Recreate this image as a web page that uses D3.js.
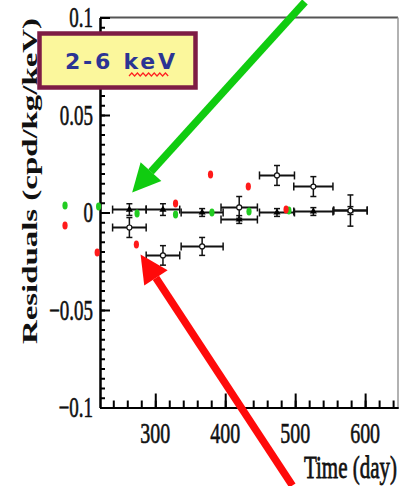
<!DOCTYPE html>
<html>
<head>
<meta charset="utf-8">
<script src="https://cdn.jsdelivr.net/npm/d3@7"></script>
<style>
  body { margin: 0; background: #fff; }
  svg { display: block; }
</style>
</head>
<body>
<div id="chart"></div>
<script>
// residuals per time bin (day centre, half width of bin)
const binDays = [263, 311, 367, 420, 474, 526, 579];
const binHalf = [24, 24, 30, 26, 25, 28, 24];
const residOpen = [-0.0077, -0.022, -0.0174, 0.0026, 0.019, 0.0133, 0.001];
const errOpen = [0.0051, 0.005, 0.0046, 0.0056, 0.0051, 0.0051, 0.008];
const residFilled = [0.0015, 0.0015, 0, -0.0036, 0, 0.0005, 0.001];
const errFilled = [0.003, 0.003, 0.002, 0.002, 0.002, 0.002, 0.002];

// coloured points
const redDays = [171, 217, 273, 329, 379, 433, 487];
const redVals = [-0.0067, -0.0205, -0.0164, 0.0046, 0.0195, 0.0133, 0.0015];
const greenDays = [171, 219, 274, 329, 381, 434, 491];
const greenVals = [0.0036, 0.0031, -0.0005, -0.001, 0, 0.0005, 0.001];

const xTickLabels = [300, 400, 500, 600];
const yTickLabels = [-0.1, -0.05, 0, 0.05, 0.1];

// annotation arrows, in data coords (tail -> tip)
const arrows = [
  {color: '#10cc10', from: [514, 0.108], to: [267, 0.0103]},
  {color: '#ff0a0a', from: [496, -0.14], to: [279, -0.0215]}
];

const width = 399, height = 486;
const svg = d3.select('#chart').append('svg')
  .attr('width', width).attr('height', height);

const x = d3.scaleLinear().domain([221, 647]).range([100, 398]);
const y = d3.scaleLinear().domain([-0.1, 0.1]).range([407.5, 17.5]);

const serif = '"Liberation Serif", "Times New Roman", serif';

// frame (top / right)
svg.append('line').attr('x1', 100).attr('x2', 398).attr('y1', 17.5).attr('y2', 17.5)
  .attr('stroke', '#555').attr('stroke-width', 2);
svg.append('line').attr('x1', 398).attr('x2', 398).attr('y1', 17.5).attr('y2', 407.5)
  .attr('stroke', '#999').attr('stroke-width', 1.5);

// y axis: minor + major ticks pointing inside
const yAxisG = svg.append('g').attr('transform', 'translate(100,0)');
yAxisG.append('g')
  .call(d3.axisLeft(y).tickValues(d3.range(-20, 21).map(i => i * 0.005)).tickSizeInner(-5).tickSizeOuter(0).tickFormat(''));
yAxisG.append('g')
  .call(d3.axisLeft(y).tickValues(yTickLabels).tickSizeInner(-10).tickSizeOuter(0).tickFormat(''));
yAxisG.selectAll('path.domain').attr('stroke', '#000').attr('stroke-width', 2);
yAxisG.selectAll('line').attr('stroke', '#000').attr('stroke-width', 2);

yAxisG.selectAll('text.ylab')
  .data(yTickLabels)
  .join('text')
  .attr('class', 'ylab')
  .attr('transform', d => `translate(-7,${y(d)}) scale(1,1.5)`)
  .attr('dy', '0.34em')
  .attr('text-anchor', 'end')
  .attr('font-family', serif)
  .attr('font-size', 19)
  .attr('fill', '#111').attr('stroke', '#111').attr('stroke-width', 0.4)
  .text(d => d === 0 ? '0' : (d < 0 ? '\u2212' : '') + String(Math.abs(d)));

// x axis
const xAxisG = svg.append('g').attr('transform', 'translate(0,407.5)');
xAxisG.append('g')
  .call(d3.axisBottom(x).tickValues(d3.range(240, 647, 20)).tickSizeInner(-7).tickSizeOuter(0).tickFormat(''));
xAxisG.append('g')
  .call(d3.axisBottom(x).tickValues(xTickLabels).tickSizeInner(-14).tickSizeOuter(0).tickFormat(''));
xAxisG.selectAll('path.domain').attr('stroke', '#000').attr('stroke-width', 2);
xAxisG.selectAll('line').attr('stroke', '#000').attr('stroke-width', 2);

xAxisG.selectAll('text.xlab')
  .data(xTickLabels)
  .join('text')
  .attr('class', 'xlab')
  .attr('transform', d => `translate(${x(d)},35) scale(1,1.5)`)
  .attr('text-anchor', 'middle')
  .attr('font-family', serif)
  .attr('font-size', 20)
  .attr('fill', '#111').attr('stroke', '#111').attr('stroke-width', 0.4)
  .text(d => d);

// axis titles
svg.append('text')
  .attr('transform', 'translate(37,344) rotate(-90)')
  .attr('font-family', serif)
  .attr('font-weight', 'bold')
  .attr('font-size', 21)
  .attr('textLength', 326)
  .attr('lengthAdjust', 'spacingAndGlyphs')
  .attr('fill', '#111')
  .text('Residuals (cpd/kg/keV)');

svg.append('text')
  .attr('transform', 'translate(397,478) scale(1,1.5)')
  .attr('text-anchor', 'end')
  .attr('font-family', serif)
  .attr('font-size', 21)
  .attr('fill', '#111').attr('stroke', '#111').attr('stroke-width', 0.5)
  .text('Time (day)');

// error-bar series
function drawSeries(vals, errs, filled) {
  const g = svg.append('g');
  const pts = binDays.map((d, i) => ({d, h: binHalf[i], v: vals[i], e: errs[i]}));
  const sel = g.selectAll('g').data(pts).join('g');
  // horizontal bar + end caps
  sel.append('line')
    .attr('x1', p => x(p.d - p.h)).attr('x2', p => x(p.d + p.h))
    .attr('y1', p => y(p.v)).attr('y2', p => y(p.v))
    .attr('stroke', '#111').attr('stroke-width', 2);
  sel.append('line')
    .attr('x1', p => x(p.d - p.h)).attr('x2', p => x(p.d - p.h))
    .attr('y1', p => y(p.v) - 4).attr('y2', p => y(p.v) + 4)
    .attr('stroke', '#111').attr('stroke-width', 1.5);
  sel.append('line')
    .attr('x1', p => x(p.d + p.h)).attr('x2', p => x(p.d + p.h))
    .attr('y1', p => y(p.v) - 4).attr('y2', p => y(p.v) + 4)
    .attr('stroke', '#111').attr('stroke-width', 1.5);
  // vertical bar + caps
  sel.append('line')
    .attr('x1', p => x(p.d)).attr('x2', p => x(p.d))
    .attr('y1', p => y(p.v + p.e)).attr('y2', p => y(p.v - p.e))
    .attr('stroke', '#111').attr('stroke-width', 1.5);
  [1, -1].forEach(s => {
    sel.append('line')
      .attr('x1', p => x(p.d) - 3).attr('x2', p => x(p.d) + 3)
      .attr('y1', p => y(p.v + s * p.e)).attr('y2', p => y(p.v + s * p.e))
      .attr('stroke', '#111').attr('stroke-width', 1.5);
  });
  if (filled) {
    sel.append('path')
      .attr('transform', p => `translate(${x(p.d)},${y(p.v)})`)
      .attr('d', d3.symbol(d3.symbolTriangle, 22))
      .attr('fill', '#000');
  } else {
    sel.append('circle')
      .attr('cx', p => x(p.d)).attr('cy', p => y(p.v)).attr('r', 2.5)
      .attr('fill', '#fff').attr('stroke', '#111').attr('stroke-width', 1.2);
  }
}
drawSeries(residFilled, errFilled, true);
drawSeries(residOpen, errOpen, false);

// red and green points
svg.append('g').selectAll('ellipse')
  .data(greenDays.map((d, i) => ({d, v: greenVals[i]})))
  .join('ellipse')
  .attr('cx', p => x(p.d)).attr('cy', p => y(p.v))
  .attr('rx', 2.6).attr('ry', 4)
  .attr('fill', '#22cc22');
svg.append('g').selectAll('ellipse')
  .data(redDays.map((d, i) => ({d, v: redVals[i]})))
  .join('ellipse')
  .attr('cx', p => x(p.d)).attr('cy', p => y(p.v))
  .attr('rx', 2.6).attr('ry', 4)
  .attr('fill', '#ff1a1a');

// energy box
const box = svg.append('g');
box.append('rect')
  .attr('x', 39.5).attr('y', 33.5).attr('width', 156).attr('height', 54)
  .attr('fill', '#fbf79c').attr('stroke', '#7e1c44').attr('stroke-width', 4.5);
box.append('text')
  .attr('x', 120).attr('y', 69)
  .attr('text-anchor', 'middle')
  .attr('font-family', '"DejaVu Sans", sans-serif')
  .attr('font-weight', 'bold')
  .attr('font-size', 22)
  .attr('textLength', 110)
  .attr('lengthAdjust', 'spacing')
  .attr('fill', '#2b3494')
  .text('2-6 keV');
// spell-check squiggle under "keV"
const squig = d3.range(0, 15).map(i => [129 + i * 2.8, i % 2 ? 73 : 76]);
box.append('path')
  .attr('d', d3.line()(squig))
  .attr('fill', 'none').attr('stroke', '#ff2020').attr('stroke-width', 1.2);

// arrows
arrows.forEach(a => {
  const x0 = x(a.from[0]), y0 = y(a.from[1]);
  const x1 = x(a.to[0]), y1 = y(a.to[1]);
  const ang = Math.atan2(y1 - y0, x1 - x0);
  const headLen = 28, headHalf = 14;
  const bx = x1 - headLen * Math.cos(ang), by = y1 - headLen * Math.sin(ang);
  svg.append('line')
    .attr('x1', x0).attr('y1', y0).attr('x2', bx).attr('y2', by)
    .attr('stroke', a.color).attr('stroke-width', 7.5);
  const nx = -Math.sin(ang), ny = Math.cos(ang);
  svg.append('path')
    .attr('d', `M${x1},${y1}L${bx + nx * headHalf},${by + ny * headHalf}L${bx - nx * headHalf},${by - ny * headHalf}Z`)
    .attr('fill', a.color);
});
</script>
</body>
</html>
